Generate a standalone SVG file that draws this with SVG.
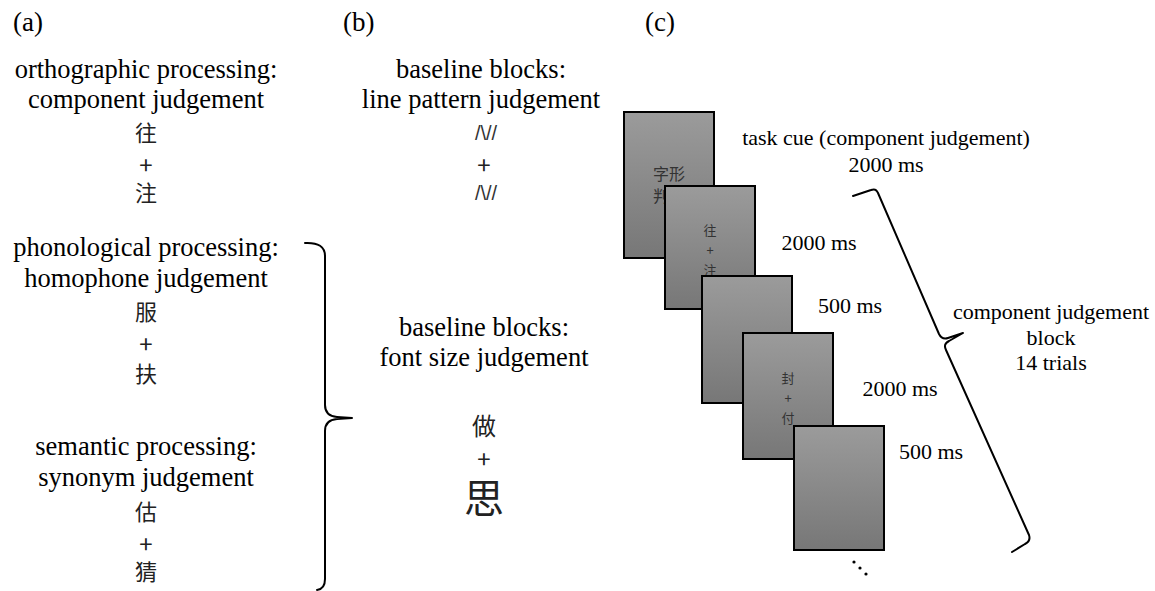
<svg xmlns="http://www.w3.org/2000/svg" width="1155" height="591" viewBox="0 0 1155 591">
  <defs>
    <linearGradient id="screenFill" x1="0" y1="0" x2="0" y2="1">
      <stop offset="0" stop-color="#9b9b9b"/>
      <stop offset="1" stop-color="#777777"/>
    </linearGradient>
    <style>
      .lbl { font-family: "Liberation Serif", "Times New Roman", serif; font-size: 27px; fill: #000; }
      .txt { font-family: "Liberation Serif", "Times New Roman", serif; font-size: 26.5px; fill: #000; text-anchor: middle; }
      .small { font-family: "Liberation Serif", "Times New Roman", serif; font-size: 22px; fill: #000; text-anchor: middle; }
      .cjk { font-family: "Liberation Serif", "Noto Sans CJK TC", serif; font-size: 22px; fill: #222; text-anchor: middle; dominant-baseline: central; }
      .plus { font-family: "Noto Sans CJK TC", sans-serif; font-size: 24px; fill: #222; text-anchor: middle; dominant-baseline: central; }
      .lines { font-family: "Liberation Sans", Arial, sans-serif; font-size: 20px; fill: #333; text-anchor: middle; dominant-baseline: central; }
      .screen { fill: url(#screenFill); stroke: #000; stroke-width: 2; }
      .scr { font-family: "Noto Sans CJK TC", sans-serif; font-size: 13px; fill: #333; text-anchor: middle; dominant-baseline: central; }
      .brace { fill: none; stroke: #000; stroke-width: 2; stroke-linejoin: round; stroke-linecap: round; }
    </style>
  </defs>
  <rect width="1155" height="591" fill="#fff"/>

  <!-- panel labels -->
  <g id="panel-labels">
    <text class="lbl" x="13" y="31">(a)</text>
    <text class="lbl" x="343" y="31">(b)</text>
    <text class="lbl" x="645" y="31">(c)</text>
  </g>

  <!-- (a) task conditions -->
  <g id="cond-orthographic">
    <text class="txt" x="146" y="78">orthographic processing:</text>
    <text class="txt" x="146" y="108">component judgement</text>
    <text class="cjk" x="146" y="133">往</text>
    <text class="plus" x="146" y="163">+</text>
    <text class="cjk" x="146" y="193">注</text>
  </g>
  <g id="cond-phonological">
    <text class="txt" x="146" y="256">phonological processing:</text>
    <text class="txt" x="146" y="287">homophone judgement</text>
    <text class="cjk" x="146" y="312">服</text>
    <text class="plus" x="146" y="342">+</text>
    <text class="cjk" x="146" y="374">扶</text>
  </g>
  <g id="cond-semantic">
    <text class="txt" x="146" y="455">semantic processing:</text>
    <text class="txt" x="146" y="486">synonym judgement</text>
    <text class="cjk" x="146" y="512">估</text>
    <text class="plus" x="146" y="542">+</text>
    <text class="cjk" x="146" y="572">猜</text>
  </g>

  <!-- (b) baseline conditions -->
  <g id="baseline-line-pattern">
    <text class="txt" x="481" y="78">baseline blocks:</text>
    <text class="txt" x="481" y="108">line pattern judgement</text>
    <text class="lines" x="486" y="133">/\//</text>
    <text class="plus" x="484" y="163">+</text>
    <text class="lines" x="486" y="193">/\//</text>
  </g>
  <g id="baseline-font-size">
    <text class="txt" x="484" y="336">baseline blocks:</text>
    <text class="txt" x="484" y="366">font size judgement</text>
    <text class="cjk" x="484" y="427" style="font-size:24px">做</text>
    <text class="plus" x="484" y="457">+</text>
    <text class="cjk" x="484" y="499" style="font-size:40px">思</text>
  </g>

  <!-- (c) trial sequence screens -->
  <g id="screen-cue">
    <rect class="screen" x="624" y="112" width="90" height="146"/>
    <text class="scr" x="669" y="173" style="font-size:16px">字形</text>
    <text class="scr" x="661" y="195" style="font-size:16px">判</text>
  </g>
  <g id="screen-trial1">
    <rect class="screen" x="665" y="186" width="90" height="123"/>
    <text class="scr" x="710" y="229">往</text>
    <text class="scr" x="710" y="249">+</text>
    <text class="scr" x="710" y="269">注</text>
  </g>
  <g id="screen-blank1">
    <rect class="screen" x="702" y="276" width="90" height="127"/>
  </g>
  <g id="screen-trial2">
    <rect class="screen" x="743" y="333" width="90" height="126"/>
    <text class="scr" x="788" y="377">封</text>
    <text class="scr" x="788" y="397">+</text>
    <text class="scr" x="788" y="417">付</text>
  </g>
  <g id="screen-blank2">
    <rect class="screen" x="794" y="426" width="90" height="124"/>
  </g>
  <g id="continuation">
    <circle cx="854" cy="562" r="1.6"/>
    <circle cx="860" cy="568" r="1.6"/>
    <circle cx="866" cy="574" r="1.6"/>
  </g>

  <!-- (c) timing annotations -->
  <g id="timing">
    <text class="small" x="886" y="145">task cue (component judgement)</text>
    <text class="small" x="886" y="172">2000 ms</text>
    <text class="small" x="819" y="250">2000 ms</text>
    <text class="small" x="850" y="313">500 ms</text>
    <text class="small" x="900" y="396">2000 ms</text>
    <text class="small" x="931" y="459">500 ms</text>
  </g>
  <g id="block-label">
    <text class="small" x="1051" y="319">component judgement</text>
    <text class="small" x="1051" y="345">block</text>
    <text class="small" x="1051" y="370">14 trials</text>
  </g>

  <!-- braces -->
  <g id="connectors">
    <path class="brace" d="M305,243 Q325,242 325,256 L325,405 Q325,416 337,417 L352,418 L337,419 Q325,420 325,431 L325,579 Q325,589 317,590"/>
    <path class="brace" d="M853,196 L871,190 Q876,188 878,193 L939,334 Q942,340 948,338 L963,333 L949,341 Q943,344 946,350 L1029,535 Q1031,541 1025,544 L1012,552"/>
  </g>
</svg>
